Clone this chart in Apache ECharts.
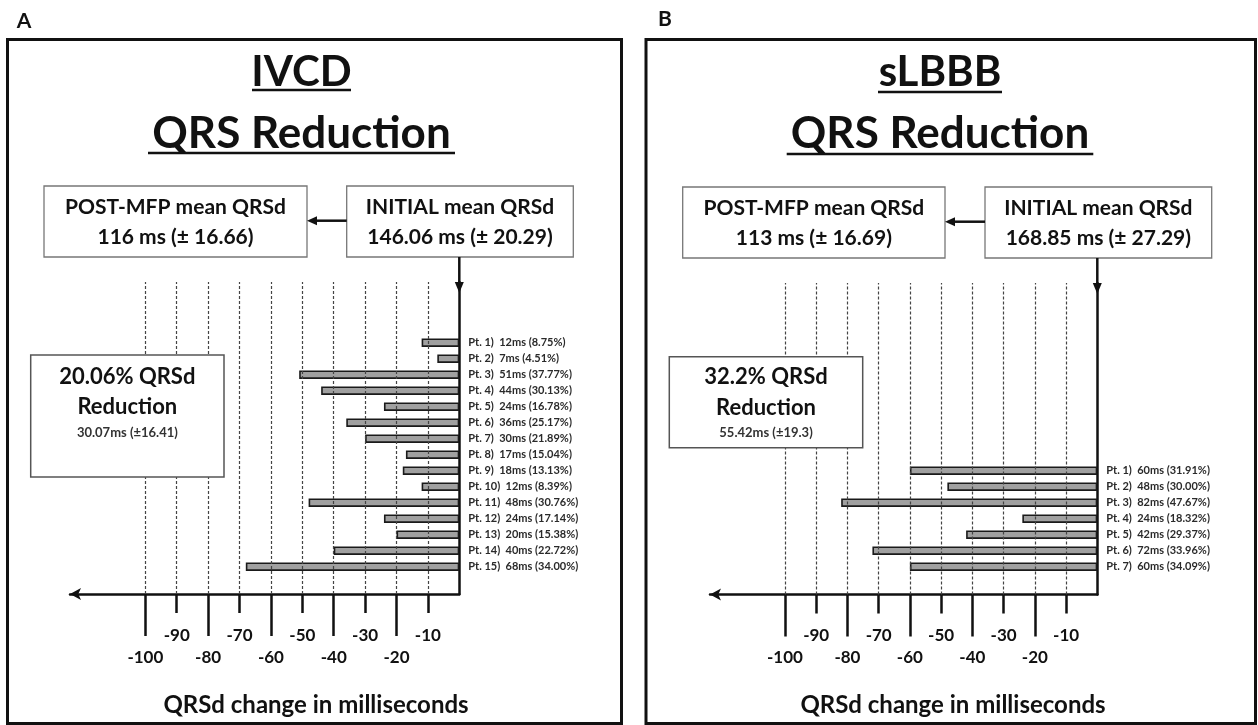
<!DOCTYPE html>
<html><head><meta charset="utf-8">
<script src="https://cdn.jsdelivr.net/npm/echarts@6/dist/echarts.min.js"></script>
<style>html,body{margin:0;padding:0;background:#fff}#c{width:1258px;height:725px}</style>
</head><body><div id="c"></div><script>
// ---------- data ----------
const ivcdPatients = ['Pt. 1)','Pt. 2)','Pt. 3)','Pt. 4)','Pt. 5)','Pt. 6)','Pt. 7)','Pt. 8)','Pt. 9)','Pt. 10)','Pt. 11)','Pt. 12)','Pt. 13)','Pt. 14)','Pt. 15)'];
const ivcdMs = [12, 7, 51, 44, 24, 36, 30, 17, 18, 12, 48, 24, 20, 40, 68];
const ivcdPct = ['8.75','4.51','37.77','30.13','16.78','25.17','21.89','15.04','13.13','8.39','30.76','17.14','15.38','22.72','34.00'];
const lbbbPatients = ['Pt. 1)','Pt. 2)','Pt. 3)','Pt. 4)','Pt. 5)','Pt. 6)','Pt. 7)'];
const lbbbMs = [60, 48, 82, 24, 42, 72, 60];
const lbbbPct = ['31.91','30.00','47.67','18.32','29.37','33.96','34.09'];
const longTicks = [-100, -80, -60, -40, -20];
const shortTicks = [-90, -70, -50, -30, -10];
const gridTicks = [-100, -90, -80, -70, -60, -50, -40, -30, -20, -10];
const axisMin = -124, axisMax = 0;
const ivcdText = {letter:'A', title:'IVCD', post:['POST-MFP mean QRSd','116 ms (± 16.66)'], init:['INITIAL mean QRSd','146.06 ms (± 20.29)'], red:['20.06% QRSd','Reduction','30.07ms (±16.41)']};
const lbbbText = {letter:'B', title:'sLBBB', post:['POST-MFP mean QRSd','113 ms (± 16.69)'], init:['INITIAL mean QRSd','168.85 ms (± 27.29)'], red:['32.2% QRSd','Reduction','55.42ms (±19.3)']};
const subTitle = 'QRS Reduction';
const xTitle = 'QRSd change in milliseconds';

// ---------- layout ----------
const layoutA = {frame:[7.5,39.5,614,684], label:[24,21], titleX:301.5, t1y:72.5, t1u:[252,351,90], t2y:133.5, t2u:[148,455,153],
  post:[44,186,263,71], init:[346.7,186,226.6,71], arrowY:220.7, zeroX:459.3, axisLeft:70, axisTop:282, axisY:594, barTop:334.7,
  red:[30.7,355,193.3,122], redY:[376.7,407.3,432.7], xt:[316,705]};
const layoutB = {frame:[646,39.5,609.5,684], label:[665,19], titleX:940, t1y:72.5, t1u:[878,1002,92], t2y:133.5, t2u:[786.7,1093.3,154],
  post:[682.7,187,262.3,71], init:[985,187,226.7,71], arrowY:221.7, zeroX:1097.3, axisLeft:710, axisTop:283, axisY:594.5, barTop:462.7,
  red:[669.3,356.7,193.4,91], redY:[377.3,408.3,433.3], xt:[953,705]};
const ROW = 16;
const FONT = 'Lato, "Open Sans", sans-serif';
const INK = '#111';

const grids = [], xAxes = [], yAxes = [], series = [], graphics = [];

function T(text, x, y, size, color, z) {
  graphics.push({type:'text', x:x, y:y, z:z || 10, style:{text:text, font:'bold ' + size + 'px ' + FONT, fill:color || INK, textAlign:'center', textVerticalAlign:'middle'}});
}
function L(x1, y1, x2, y2, w, color, z) {
  graphics.push({type:'line', z:z || 10, shape:{x1:x1, y1:y1, x2:x2, y2:y2}, style:{stroke:color || INK, lineWidth:w}});
}
function R(r, stroke, w, fill, z) {
  graphics.push({type:'rect', z:z || 10, shape:{x:r[0], y:r[1], width:r[2], height:r[3]}, style:{fill:fill || 'none', stroke:stroke, lineWidth:w}});
}
function P(pts, z) {
  graphics.push({type:'polygon', z:z || 10, shape:{points:pts}, style:{fill:INK}});
}

function addPanel(Lo, cats, ms, pct, tx) {
  const g0 = grids.length;
  const w = Lo.zeroX - Lo.axisLeft;
  grids.push({left:Lo.axisLeft, top:Lo.axisTop, width:w, height:Lo.axisY - Lo.axisTop});
  grids.push({left:Lo.axisLeft, top:Lo.barTop, width:w, height:cats.length * ROW});
  const xa = xAxes.length;
  const lbl = {fontSize:17, fontWeight:'bold', color:INK, fontFamily:FONT};
  xAxes.push({gridIndex:g0, type:'value', min:axisMin, max:axisMax, position:'bottom',
    axisLine:{show:true, onZero:false, symbol:['arrow','none'], symbolSize:[9,11], lineStyle:{color:INK, width:2.5}},
    axisTick:{show:true, customValues:longTicks, length:42, lineStyle:{color:INK, width:2.5}},
    axisLabel:Object.assign({show:true, customValues:longTicks, margin:55}, lbl),
    splitLine:{show:false}});
  xAxes.push({gridIndex:g0, type:'value', min:axisMin, max:axisMax, position:'bottom',
    axisLine:{show:false, onZero:false},
    axisTick:{show:true, customValues:shortTicks, length:19, lineStyle:{color:INK, width:2.5}},
    axisLabel:Object.assign({show:true, customValues:shortTicks, margin:33}, lbl),
    splitLine:{show:false}});
  xAxes.push({gridIndex:g0 + 1, type:'value', min:axisMin, max:axisMax, show:false, splitLine:{show:false}});
  const ya = yAxes.length;
  yAxes.push({gridIndex:g0, type:'value', min:0, max:1, position:'right',
    axisLine:{show:true, onZero:false, lineStyle:{color:INK, width:2.5}}, axisTick:{show:false}, axisLabel:{show:false}, splitLine:{show:false}});
  yAxes.push({gridIndex:g0 + 1, type:'category', data:cats, inverse:true, position:'right',
    axisLine:{show:false}, axisTick:{show:false},
    axisLabel:{margin:9, fontSize:11, fontWeight:'bold', color:'#2a2a2a', fontFamily:FONT,
      formatter:function (v, i) { return v + '  ' + ms[i] + 'ms (' + pct[i] + '%)'; }}});
  series.push({type:'line', xAxisIndex:xa, yAxisIndex:ya, data:[], z:1, silent:true,
    markLine:{silent:true, symbol:['none','none'], label:{show:false}, animation:false,
      lineStyle:{color:'#444', width:1.2, type:[3,2]}, data:gridTicks.map(function (v) { return {xAxis:v}; })}});
  series.push({type:'bar', xAxisIndex:xa + 2, yAxisIndex:ya + 1, data:ms.map(function (v) { return -v; }), barWidth:8.5, z:3,
    itemStyle:{color:'#a0a0a0', borderColor:'#1a1a1a', borderWidth:1.6}});

  // decoration
  R(Lo.frame, INK, 3);
  T(tx.letter, Lo.label[0], Lo.label[1], 21);
  T(tx.title, Lo.titleX, Lo.t1y, 42);
  L(Lo.t1u[0], Lo.t1u[2], Lo.t1u[1], Lo.t1u[2], 2.5);
  T(subTitle, Lo.titleX, Lo.t2y, 44);
  L(Lo.t2u[0], Lo.t2u[2], Lo.t2u[1], Lo.t2u[2], 2.5);
  R(Lo.post, '#777', 1.3, '#fff');
  R(Lo.init, '#777', 1.3, '#fff');
  const pc = Lo.post[0] + Lo.post[2] / 2, ic = Lo.init[0] + Lo.init[2] / 2;
  const ty1 = Lo.post[1] + 21.5, ty2 = Lo.post[1] + 51.5;
  T(tx.post[0], pc, ty1, 21); T(tx.post[1], pc, ty2, 21);
  T(tx.init[0], ic, ty1, 21); T(tx.init[1], ic, ty2, 21);
  const pr = Lo.post[0] + Lo.post[2];
  L(Lo.init[0], Lo.arrowY, pr + 8, Lo.arrowY, 2.5);
  P([[pr, Lo.arrowY], [pr + 10, Lo.arrowY - 4.5], [pr + 10, Lo.arrowY + 4.5]]);
  const ib = Lo.init[1] + Lo.init[3];
  L(Lo.zeroX, ib, Lo.zeroX, Lo.axisTop + 6, 2.5);
  P([[Lo.zeroX - 4.5, Lo.axisTop], [Lo.zeroX + 4.5, Lo.axisTop], [Lo.zeroX, Lo.axisTop + 11]]);
  R(Lo.red, '#555', 1.5, '#fff', 20);
  const rc = Lo.red[0] + Lo.red[2] / 2;
  T(tx.red[0], rc, Lo.redY[0], 22, INK, 21);
  T(tx.red[1], rc, Lo.redY[1], 22, INK, 21);
  T(tx.red[2], rc, Lo.redY[2], 13, '#333', 21);
  T(xTitle, Lo.xt[0], Lo.xt[1], 24);
}

addPanel(layoutA, ivcdPatients, ivcdMs, ivcdPct, ivcdText);
addPanel(layoutB, lbbbPatients, lbbbMs, lbbbPct, lbbbText);

const chart = echarts.init(document.getElementById('c'), null, {renderer:'canvas'});
chart.setOption({
  animation:false,
  backgroundColor:'#fff',
  grid:grids, xAxis:xAxes, yAxis:yAxes, series:series,
  graphic:{elements:graphics}
});
</script></body></html>
